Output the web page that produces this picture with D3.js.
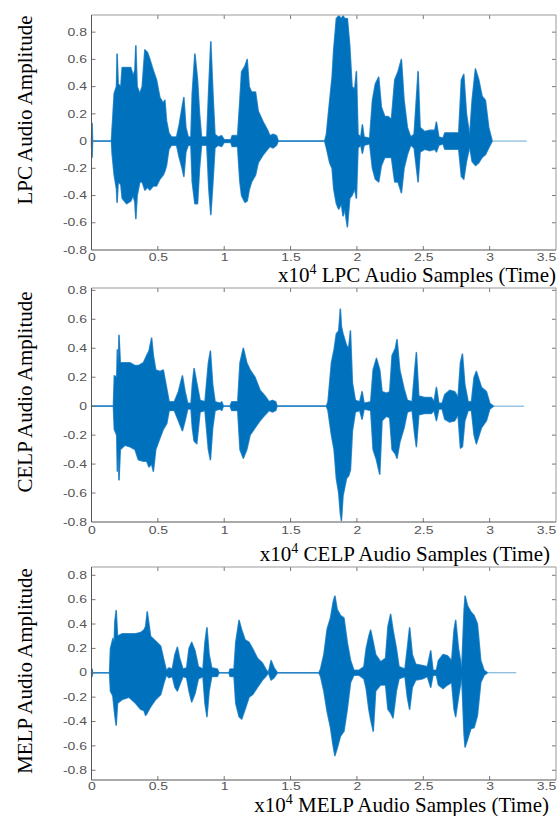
<!doctype html>
<html lang="en">
<head>
<meta charset="utf-8">
<title>LPC / CELP / MELP audio waveforms</title>
<script src="https://cdn.jsdelivr.net/npm/d3@7"></script>
<style>
  body { margin: 0; background: #fff; }
  svg { display: block; }
</style>
</head>
<body>
<script>
// tick values (x in units of 10^4 samples)
const xTicks = [0, 0.5, 1, 1.5, 2, 2.5, 3, 3.5];
const yTicks = [-0.8, -0.6, -0.4, -0.2, 0, 0.2, 0.4, 0.6, 0.8];

// waveform envelopes: time, upper peak, lower peak
const lpcTime = [0, 0.004, 0.008, 0.15, 0.156, 0.171, 0.188, 0.193, 0.201, 0.221,
  0.231, 0.264, 0.296, 0.314, 0.327, 0.334, 0.344, 0.364, 0.382, 0.402,
  0.422, 0.44, 0.465, 0.49, 0.515, 0.54, 0.553, 0.565, 0.583, 0.603,
  0.641, 0.661, 0.683, 0.696, 0.711, 0.729, 0.749, 0.759, 0.779, 0.799,
  0.814, 0.829, 0.869, 0.884, 0.899, 0.915, 0.93, 0.955, 0.98, 1.0,
  1.05, 1.06, 1.101, 1.118, 1.131, 1.156, 1.173, 1.188, 1.206, 1.236,
  1.256, 1.294, 1.327, 1.344, 1.369, 1.394, 1.407, 1.757, 1.77, 1.795,
  1.813, 1.825, 1.845, 1.863, 1.883, 1.895, 1.908, 1.928, 1.946, 1.963,
  1.983, 1.996, 2.008, 2.029, 2.041, 2.054, 2.096, 2.117, 2.139, 2.164,
  2.184, 2.21, 2.235, 2.26, 2.285, 2.31, 2.335, 2.355, 2.38, 2.405,
  2.431, 2.461, 2.476, 2.511, 2.549, 2.587, 2.599, 2.617, 2.649, 2.662,
  2.712, 2.767, 2.787, 2.805, 2.825, 2.85, 2.868, 2.893, 2.918, 2.943,
  2.968, 2.993, 3.019];
const lpcUpper = [0, 0.13, 0, 0, 0.1, 0.35, 0.4, 0.64, 0.42, 0.4,
  0.54, 0.54, 0.54, 0.48, 0.52, 0.7, 0.4, 0.35, 0.4, 0.67,
  0.65, 0.6, 0.52, 0.45, 0.32, 0.28, 0.3, 0.15, 0.06, 0.03,
  0.03, 0.12, 0.25, 0.32, 0.1, 0.03, 0.03, 0.35, 0.64, 0.45,
  0.2, 0.03, 0.03, 0.4, 0.73, 0.35, 0.05, 0.03, 0.04, 0.01,
  0.01, 0.04, 0.04, 0.3, 0.51, 0.55, 0.6, 0.4, 0.36, 0.36,
  0.22, 0.14, 0.08, 0.04, 0.05, 0.04, 0, 0, 0.05, 0.3,
  0.47, 0.67, 0.9, 0.92, 0.9, 0.92, 0.9, 0.9, 0.7, 0.4,
  0.38, 0.51, 0.05, 0.03, 0.12, 0.03, 0.02, 0.3, 0.42, 0.47,
  0.25, 0.18, 0.18, 0.16, 0.45, 0.51, 0.6, 0.3, 0.1, 0.03,
  0.05, 0.51, 0.1, 0.07, 0.08, 0.08, 0.14, 0.03, 0.02, 0.06,
  0.06, 0.06, 0.45, 0.49, 0.2, 0.04, 0.3, 0.53, 0.45, 0.33,
  0.3, 0.1, 0];
const lpcLower = [0, -0.12, 0, 0, -0.1, -0.25, -0.35, -0.45, -0.3, -0.32,
  -0.42, -0.46, -0.44, -0.4, -0.45, -0.57, -0.4, -0.3, -0.3, -0.36,
  -0.34, -0.36, -0.33, -0.33, -0.28, -0.25, -0.22, -0.18, -0.06, -0.03,
  -0.03, -0.12, -0.2, -0.26, -0.08, -0.03, -0.03, -0.3, -0.46, -0.46,
  -0.2, -0.03, -0.03, -0.35, -0.54, -0.3, -0.05, -0.03, -0.04, -0.01,
  -0.01, -0.04, -0.04, -0.3, -0.4, -0.45, -0.44, -0.36, -0.3, -0.25,
  -0.16, -0.1, -0.06, -0.04, -0.05, -0.03, 0, 0, -0.05, -0.16,
  -0.2, -0.35, -0.46, -0.5, -0.46, -0.55, -0.5, -0.63, -0.42, -0.4,
  -0.35, -0.42, -0.05, -0.03, -0.09, -0.03, -0.02, -0.2, -0.28, -0.3,
  -0.18, -0.12, -0.12, -0.12, -0.3, -0.3, -0.38, -0.2, -0.1, -0.03,
  -0.05, -0.3, -0.08, -0.06, -0.07, -0.06, -0.08, -0.03, -0.02, -0.06,
  -0.06, -0.06, -0.26, -0.28, -0.15, -0.04, -0.15, -0.18, -0.16, -0.12,
  -0.1, -0.05, 0];

const celpTime = [0, 0.165, 0.172, 0.19, 0.195, 0.202, 0.207, 0.217, 0.252, 0.29,
  0.328, 0.353, 0.391, 0.416, 0.433, 0.453, 0.466, 0.484, 0.516, 0.541,
  0.567, 0.585, 0.624, 0.655, 0.685, 0.705, 0.725, 0.75, 0.76, 0.773,
  0.793, 0.818, 0.855, 0.881, 0.896, 0.913, 0.931, 0.969, 0.981, 0.994,
  1.044, 1.057, 1.102, 1.119, 1.144, 1.17, 1.195, 1.232, 1.27, 1.308,
  1.338, 1.363, 1.388, 1.398, 1.77, 1.782, 1.808, 1.828, 1.845, 1.863,
  1.875, 1.883, 1.895, 1.921, 1.938, 1.951, 1.966, 1.988, 2.021, 2.039,
  2.054, 2.104, 2.122, 2.147, 2.172, 2.189, 2.222, 2.247, 2.265, 2.29,
  2.302, 2.323, 2.355, 2.38, 2.416, 2.436, 2.448, 2.466, 2.511, 2.561,
  2.581, 2.599, 2.617, 2.642, 2.662, 2.699, 2.737, 2.762, 2.78, 2.795,
  2.813, 2.838, 2.863, 2.883, 2.9, 2.938, 2.976, 3.001, 3.029];
const celpUpper = [0, 0, 0.21, 0.2, 0.39, 0.25, 0.49, 0.3, 0.3, 0.3,
  0.28, 0.28, 0.3, 0.35, 0.38, 0.47, 0.35, 0.25, 0.24, 0.25,
  0.12, 0.03, 0.03, 0.1, 0.21, 0.1, 0.02, 0.02, 0.15, 0.26,
  0.16, 0.04, 0.03, 0.3, 0.38, 0.15, 0.03, 0.02, 0.03, 0,
  0, 0.03, 0.03, 0.3, 0.4, 0.3, 0.25, 0.2, 0.11, 0.07,
  0.03, 0.04, 0.03, 0, 0, 0.03, 0.3, 0.39, 0.5, 0.52,
  0.67, 0.55, 0.5, 0.42, 0.4, 0.52, 0.16, 0.04, 0.03, 0.1,
  0.02, 0.03, 0.25, 0.33, 0.25, 0.1, 0.09, 0.1, 0.35, 0.4,
  0.46, 0.25, 0.12, 0.04, 0.03, 0.25, 0.37, 0.07, 0.06, 0.06,
  0.03, 0.13, 0.02, 0.02, 0.08, 0.11, 0.1, 0.06, 0.3, 0.36,
  0.15, 0.03, 0.03, 0.2, 0.24, 0.13, 0.1, 0.02, 0];
const celpLower = [0, 0, -0.16, -0.2, -0.45, -0.3, -0.51, -0.3, -0.27, -0.28,
  -0.3, -0.37, -0.38, -0.38, -0.42, -0.4, -0.45, -0.3, -0.22, -0.16,
  -0.12, -0.03, -0.03, -0.1, -0.17, -0.1, -0.02, -0.02, -0.15, -0.24,
  -0.26, -0.04, -0.03, -0.3, -0.37, -0.15, -0.03, -0.02, -0.03, 0,
  0, -0.03, -0.03, -0.3, -0.36, -0.3, -0.2, -0.15, -0.1, -0.06,
  -0.03, -0.04, -0.03, 0, 0, -0.03, -0.2, -0.3, -0.5, -0.6,
  -0.74, -0.79, -0.62, -0.5, -0.48, -0.44, -0.17, -0.04, -0.03, -0.09,
  -0.02, -0.03, -0.3, -0.37, -0.47, -0.1, -0.07, -0.08, -0.3, -0.33,
  -0.36, -0.25, -0.15, -0.04, -0.03, -0.2, -0.28, -0.06, -0.05, -0.05,
  -0.03, -0.1, -0.02, -0.02, -0.09, -0.11, -0.1, -0.06, -0.29, -0.28,
  -0.1, -0.03, -0.03, -0.2, -0.26, -0.15, -0.1, -0.02, 0];

const melpTime = [0, 0.004, 0.008, 0.136, 0.143, 0.161, 0.171, 0.176, 0.186, 0.196,
  0.231, 0.282, 0.332, 0.37, 0.395, 0.408, 0.42, 0.445, 0.483, 0.521,
  0.546, 0.564, 0.584, 0.609, 0.629, 0.647, 0.664, 0.689, 0.717, 0.735,
  0.755, 0.78, 0.805, 0.84, 0.855, 0.87, 0.886, 0.906, 0.948, 0.961,
  1.036, 1.044, 1.074, 1.087, 1.112, 1.132, 1.157, 1.187, 1.213, 1.25,
  1.288, 1.313, 1.333, 1.353, 1.376, 1.401, 1.713, 1.726, 1.751, 1.776,
  1.801, 1.821, 1.834, 1.851, 1.876, 1.902, 1.927, 1.952, 1.977, 2.015,
  2.053, 2.07, 2.09, 2.103, 2.123, 2.141, 2.178, 2.216, 2.234, 2.254,
  2.272, 2.297, 2.317, 2.362, 2.38, 2.397, 2.417, 2.443, 2.493, 2.531,
  2.556, 2.573, 2.599, 2.614, 2.649, 2.682, 2.714, 2.732, 2.744, 2.765,
  2.79, 2.807, 2.815, 2.833, 2.858, 2.883, 2.908, 2.933, 2.958, 2.983];
const melpUpper = [0, 0.03, 0, 0, 0.2, 0.28, 0.25, 0.42, 0.51, 0.3,
  0.32, 0.32, 0.32, 0.33, 0.35, 0.38, 0.5, 0.3, 0.26, 0.22,
  0.1, 0.02, 0.04, 0.03, 0.15, 0.21, 0.12, 0.03, 0.04, 0.2,
  0.25, 0.18, 0.05, 0.03, 0.25, 0.37, 0.15, 0.04, 0.03, 0,
  0, 0.03, 0.03, 0.25, 0.43, 0.35, 0.27, 0.25, 0.2, 0.12,
  0.08, 0.03, 0, 0.1, 0.04, 0, 0, 0.03, 0.15, 0.36,
  0.45, 0.58, 0.63, 0.52, 0.47, 0.45, 0.25, 0.1, 0.02, 0.02,
  0.05, 0.2, 0.3, 0.35, 0.25, 0.15, 0.09, 0.12, 0.38, 0.48,
  0.35, 0.2, 0.05, 0.03, 0.2, 0.37, 0.15, 0.07, 0.06, 0.05,
  0.18, 0.02, 0.02, 0.1, 0.15, 0.14, 0.1, 0.35, 0.43, 0.2,
  0.03, 0.5, 0.63, 0.55, 0.5, 0.47, 0.4, 0.1, 0.02, 0];
const melpLower = [0, -0.03, 0, 0, -0.15, -0.19, -0.3, -0.35, -0.43, -0.25,
  -0.22, -0.2, -0.25, -0.3, -0.31, -0.35, -0.33, -0.28, -0.22, -0.18,
  -0.08, -0.02, -0.04, -0.03, -0.12, -0.15, -0.1, -0.03, -0.04, -0.15,
  -0.24, -0.17, -0.05, -0.03, -0.25, -0.36, -0.15, -0.03, -0.03, 0,
  0, -0.03, -0.03, -0.25, -0.36, -0.38, -0.3, -0.2, -0.18, -0.12,
  -0.06, -0.03, 0, -0.06, -0.04, 0, 0, -0.03, -0.15, -0.32,
  -0.45, -0.6, -0.68, -0.62, -0.52, -0.48, -0.3, -0.08, -0.02, -0.02,
  -0.05, -0.13, -0.3, -0.38, -0.48, -0.15, -0.1, -0.1, -0.3, -0.33,
  -0.37, -0.15, -0.05, -0.03, -0.2, -0.3, -0.12, -0.06, -0.05, -0.03,
  -0.12, -0.02, -0.02, -0.1, -0.13, -0.1, -0.08, -0.3, -0.36, -0.2,
  -0.03, -0.5, -0.61, -0.55, -0.46, -0.45, -0.35, -0.08, -0.02, 0];

const w = 559;
const h = 816;
const left = 91.5, right = 556;
const blue = "#0072bd";
const sx = 1.4; // tick labels are drawn horizontally stretched

const panels = [
  {name: "LPC", time: lpcTime, upper: lpcUpper, lower: lpcLower, end: 3.28,
   top: 15, bottom: 250, yMin: -0.8, yMax: 0.926, labelEnd: 556, labelBase: 282, yMid: 110, pad: 4},
  {name: "CELP", time: celpTime, upper: celpUpper, lower: celpLower, end: 3.26,
   top: 288, bottom: 522, yMin: -0.8, yMax: 0.816, labelEnd: 550, labelBase: 561, yMid: 392, pad: 4.5},
  {name: "MELP", time: melpTime, upper: melpUpper, lower: melpLower, end: 3.2,
   top: 567, bottom: 780, yMin: -0.88, yMax: 0.868, labelEnd: 549, labelBase: 812, yMid: 671, pad: 2.5}
];

const svg = d3.select("body").append("svg")
  .attr("width", w)
  .attr("height", h);

const xScale = d3.scaleLinear().domain([0, 3.5]).range([left, right]);

panels.forEach(p => {
  const yScale = d3.scaleLinear().domain([p.yMin, p.yMax]).range([p.bottom, p.top]);
  const g = svg.append("g");

  // flat part of the signal
  g.append("line")
    .attr("x1", xScale(0)).attr("x2", xScale(p.end))
    .attr("y1", yScale(0)).attr("y2", yScale(0))
    .attr("stroke", blue).attr("stroke-opacity", 0.6).attr("stroke-width", 1);

  const area = d3.area()
    .x(i => xScale(p.time[i]))
    .y0(i => yScale(p.lower[i]))
    .y1(i => yScale(p.upper[i]));

  // soft halo round the bursts, then the solid body
  g.append("path")
    .datum(d3.range(p.time.length))
    .attr("d", area)
    .attr("fill", "none")
    .attr("stroke", "#6aa6d8")
    .attr("stroke-width", 1.6)
    .attr("stroke-linejoin", "round");
  g.append("path")
    .datum(d3.range(p.time.length))
    .attr("d", area)
    .attr("fill", blue)
    .attr("stroke", blue)
    .attr("stroke-width", 0.5)
    .attr("stroke-linejoin", "round");

  // inner ticks on all four sides
  const tickCol = "#777";
  xTicks.filter(t => t > 0 && t < 3.5).forEach(t => {
    g.append("line").attr("x1", xScale(t)).attr("x2", xScale(t))
      .attr("y1", p.top).attr("y2", p.top + 4).attr("stroke", tickCol);
    g.append("line").attr("x1", xScale(t)).attr("x2", xScale(t))
      .attr("y1", p.bottom).attr("y2", p.bottom - 4).attr("stroke", tickCol);
  });
  yTicks.filter(t => t > p.yMin && t < p.yMax).forEach(t => {
    g.append("line").attr("x1", left).attr("x2", left + 4)
      .attr("y1", yScale(t)).attr("y2", yScale(t)).attr("stroke", tickCol);
    g.append("line").attr("x1", right).attr("x2", right - 4)
      .attr("y1", yScale(t)).attr("y2", yScale(t)).attr("stroke", tickCol);
  });

  // frame
  g.append("line").attr("x1", left).attr("x2", right).attr("y1", p.top).attr("y2", p.top)
    .attr("stroke", "#999");
  g.append("line").attr("x1", right).attr("x2", right).attr("y1", p.top).attr("y2", p.bottom)
    .attr("stroke", "#999");
  g.append("line").attr("x1", left).attr("x2", right).attr("y1", p.bottom).attr("y2", p.bottom)
    .attr("stroke", "#555");
  g.append("line").attr("x1", left).attr("x2", left).attr("y1", p.top).attr("y2", p.bottom)
    .attr("stroke", "#555");

  // tick labels
  const yAxis = g.append("g")
    .attr("transform", "translate(" + left + ",0)")
    .call(d3.axisLeft(yScale).tickValues(yTicks).tickSize(0).tickPadding(0)
      .tickFormat(d => String(d)));
  yAxis.select(".domain").remove();
  yAxis.selectAll("text")
    .attr("x", -4.5 / sx)
    .attr("transform", "scale(" + sx + ",1)")
    .attr("font-family", "'Liberation Sans', Arial, sans-serif")
    .attr("font-size", 10)
    .attr("fill", "#555");

  const xAxis = g.append("g")
    .attr("transform", "translate(0," + p.bottom + ")")
    .call(d3.axisBottom(xScale).tickValues(xTicks).tickSize(0).tickPadding(p.pad)
      .tickFormat(d => String(d)));
  xAxis.select(".domain").remove();
  xAxis.selectAll("text")
    .attr("x", d => d === 3.5 ? -10 / sx : 0)
    .attr("transform", "scale(" + sx + ",1)")
    .attr("font-family", "'Liberation Sans', Arial, sans-serif")
    .attr("font-size", 10)
    .attr("fill", "#555");

  // axis titles
  svg.append("text")
    .attr("transform", "translate(32," + p.yMid + ") rotate(-90)")
    .attr("text-anchor", "middle")
    .attr("font-family", "'Liberation Serif', 'Times New Roman', serif")
    .attr("font-size", 21)
    .attr("fill", "#000")
    .text(p.name + " Audio Amplitude");

  const xl = svg.append("text")
    .attr("x", p.labelEnd)
    .attr("y", p.labelBase)
    .attr("text-anchor", "end")
    .attr("font-family", "'Liberation Serif', 'Times New Roman', serif")
    .attr("font-size", 21)
    .attr("fill", "#000");
  xl.append("tspan").text("x10");
  xl.append("tspan").attr("dy", -8).attr("font-size", 14).text("4");
  xl.append("tspan").attr("dy", 8).text(" " + p.name + " Audio Samples (Time)");
});
</script>
</body>
</html>
